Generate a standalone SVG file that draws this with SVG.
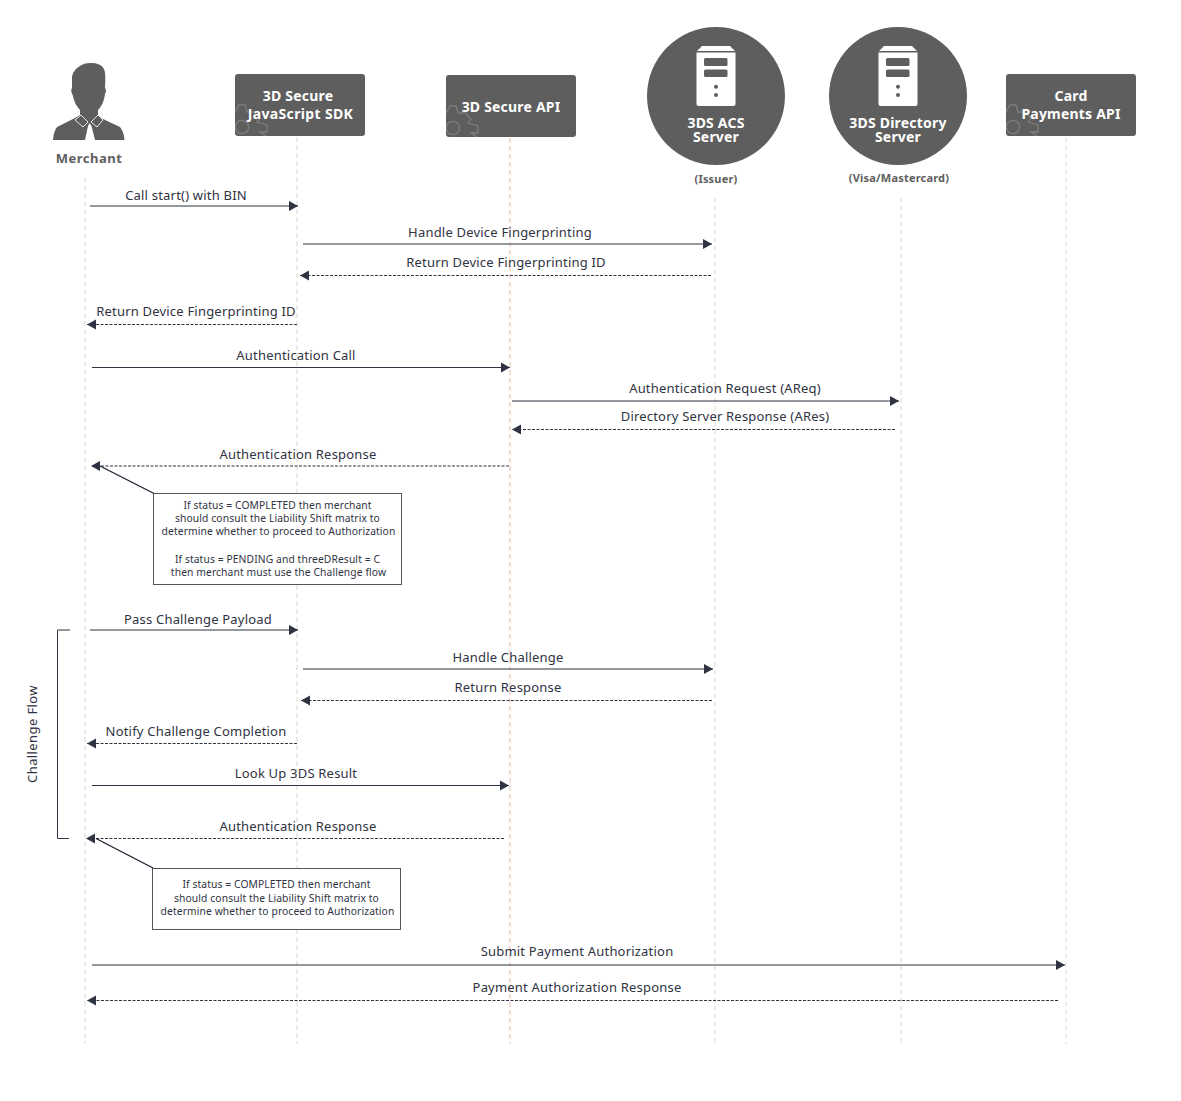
<svg xmlns="http://www.w3.org/2000/svg" width="1181" height="1101" viewBox="0 0 1181 1101">
<style>
text{font-family:"Noto Sans","Open Sans",sans-serif}
.lbl{font-size:13px;fill:#2f3342;text-anchor:middle;letter-spacing:.2px}
.note{font-size:10.3px;fill:#2f3342;text-anchor:middle;letter-spacing:.1px}
.hd{font-size:14px;font-weight:700;fill:#fff;text-anchor:middle;letter-spacing:.2px}
.sub{font-size:11px;font-weight:700;fill:#5e5e5e;text-anchor:middle;letter-spacing:.2px}
.box{fill:#5e5e5e}
.gear{fill:none;stroke:#7d7d7d;stroke-width:1.3}
.life{fill:none;stroke:#dcd6d2;stroke-width:1;stroke-dasharray:5 3}
.liferose{fill:none;stroke:#e3bfae;stroke-width:1;stroke-dasharray:5 3}
.s{fill:none;stroke:#2f3342;stroke-width:1;marker-end:url(#a)}
.d{fill:none;stroke:#2f3342;stroke-width:1;stroke-dasharray:3 1.500;marker-end:url(#a)}
.p{fill:none;stroke:#1f2230;stroke-width:1.400}
.n{fill:#fff;stroke:#555;stroke-width:1}
.srv{fill:#fff}
</style>
<defs>
<marker id="a" markerUnits="userSpaceOnUse" markerWidth="10" markerHeight="11" refX="9" refY="5.500" orient="auto"><path d="M0 0.500L9 5.500L0 10.500z" fill="#2f3342"/></marker>
<clipPath id="c"><rect x="0" y="0" width="130" height="62" rx="3"/></clipPath>
<g id="gear"><g clip-path="url(#c)"><circle class="gear" cx="7" cy="53" r="6.700"/><path class="gear" d="M0 38L4 31L10 31L12 38L19 38L25 44L22 48L32 51L32 58L25 58L32 63"/></g></g>
<g id="srv"><path class="srv" d="M-14 -50L14 -50L19 -45L-19 -45zM-19.500 -43.500L19.500 -43.500L19.500 8Q19.500 10 17.500 10L-17.500 10Q-19.500 10 -19.500 8z"/><rect class="box" x="-12" y="-38" width="23.500" height="8" rx="1.500"/><rect class="box" x="-12" y="-26.500" width="23.500" height="7.500" rx="1.500"/><circle class="box" cx="0" cy="-9.300" r="2"/><circle class="box" cx="0" cy="-1" r="2"/></g>
</defs>
<g id="lifelines">
<path class="life" d="M85 177V1044"/>
<path class="life" d="M297 137V1044"/>
<path class="liferose" d="M510 138V1044"/>
<path class="life" d="M715 198V1044"/>
<path class="life" d="M901 198V1044"/>
<path class="life" d="M1066 138V1044"/>
</g>
<g id="merchant">
<path class="box" d="M72 77Q73 68 85 63.500Q100 61.500 104 69Q106 73 105 88Q107 90 105 94C104 101 102 106 98 110L98 115L103 119L120 127Q124 132 124.500 140L53 140Q53.500 132 57 127L75 118L80 115L80 110C76 106 74 101 73 96Q70 90 72 88z"/>
<path d="M75 120L81 115L88 122L83 127zM103 120L98 115L91 122L97 127z" fill="#5e5e5e" stroke="#e8e8e8" stroke-width="1"/>
<path d="M89.500 123L91.500 126L95 140L85 140L88 126z" fill="#fff"/>
<text class="sub" x="89" y="162.500" style="font-size:13px;letter-spacing:.5px">Merchant</text>
</g>
<g id="sdk"><rect class="box" x="235" y="74" width="130" height="62" rx="3"/><use href="#gear" x="235" y="74"/><text class="hd" x="298" y="101">3D Secure</text><text class="hd" x="300.500" y="119" style="letter-spacing:.35px">JavaScript SDK</text></g>
<g id="api"><rect class="box" x="446" y="75" width="130" height="62" rx="3"/><use href="#gear" x="446" y="75"/><text class="hd" x="511" y="112">3D Secure API</text></g>
<g id="acs"><circle class="box" cx="716" cy="96" r="69"/><use href="#srv" x="716" y="96"/><text class="hd" x="716" y="128">3DS ACS</text><text class="hd" x="716" y="142">Server</text><text class="sub" x="716" y="183">(Issuer)</text></g>
<g id="dir"><circle class="box" cx="898" cy="96" r="69"/><use href="#srv" x="898" y="96"/><text class="hd" x="898" y="128">3DS Directory</text><text class="hd" x="898" y="142">Server</text><text class="sub" x="899" y="182">(Visa/Mastercard)</text></g>
<g id="card"><rect class="box" x="1006" y="74" width="130" height="62" rx="3"/><use href="#gear" x="1006" y="74"/><text class="hd" x="1071" y="101">Card</text><text class="hd" x="1071" y="119">Payments API</text></g>
<g id="connectors">
<path class="s" d="M90 206H298"/><path class="s" d="M303 244H712"/><path class="d" d="M711 275.500H300"/><path class="d" d="M297 324.500H87"/><path class="s" d="M92 367.500H510"/><path class="s" d="M512 401H899"/><path class="d" d="M895 429.500H512"/><path class="d" d="M509 466H91"/>
<path class="p" d="M155 494L100 466"/>
<path class="s" d="M90 630H298"/><path class="s" d="M303 669H713"/><path class="d" d="M712 700.500H301"/><path class="d" d="M297 743.500H87"/><path class="s" d="M92 785.500H509"/><path class="d" d="M504 838.500H86"/>
<path class="p" d="M153 868L96 838.500"/>
<path class="s" d="M92 965H1065"/><path class="d" d="M1058 1000.500H87"/>
<path d="M70 630H57.500V838.500H69" fill="none" stroke="#2f3342" stroke-width="1"/>
</g>
<g id="labels">
<text class="lbl" x="186" y="200">Call start() with BIN</text>
<text class="lbl" x="500" y="237">Handle Device Fingerprinting</text>
<text class="lbl" x="506" y="267">Return Device Fingerprinting ID</text>
<text class="lbl" x="196" y="316">Return Device Fingerprinting ID</text>
<text class="lbl" x="296" y="360">Authentication Call</text>
<text class="lbl" x="725" y="393">Authentication Request (AReq)</text>
<text class="lbl" x="725" y="421">Directory Server Response (ARes)</text>
<text class="lbl" x="298" y="459">Authentication Response</text>
<text class="lbl" x="198" y="624">Pass Challenge Payload</text>
<text class="lbl" x="508" y="662">Handle Challenge</text>
<text class="lbl" x="508" y="692">Return Response</text>
<text class="lbl" x="196" y="736">Notify Challenge Completion</text>
<text class="lbl" x="296" y="778">Look Up 3DS Result</text>
<text class="lbl" x="298" y="831">Authentication Response</text>
<text class="lbl" x="577" y="956">Submit Payment Authorization</text>
<text class="lbl" x="577" y="992">Payment Authorization Response</text>
<text class="lbl" transform="translate(37 734) rotate(-90)" style="letter-spacing:.4px">Challenge Flow</text>
</g>
<g id="note1"><rect class="n" x="153.500" y="493.500" width="248" height="91"/>
<text class="note" x="277.500" y="509">If status = COMPLETED then merchant</text>
<text class="note" x="277.500" y="522">should consult the Liability Shift matrix to</text>
<text class="note" x="278.500" y="535">determine whether to proceed to Authorization</text>
<text class="note" x="277.500" y="563">If status = PENDING and threeDResult = C</text>
<text class="note" x="278.500" y="576">then merchant must use the Challenge flow</text></g>
<g id="note2"><rect class="n" x="152.500" y="868.500" width="248" height="61"/>
<text class="note" x="276.500" y="888">If status = COMPLETED then merchant</text>
<text class="note" x="276.500" y="902">should consult the Liability Shift matrix to</text>
<text class="note" x="277.500" y="915">determine whether to proceed to Authorization</text></g>
</svg>
